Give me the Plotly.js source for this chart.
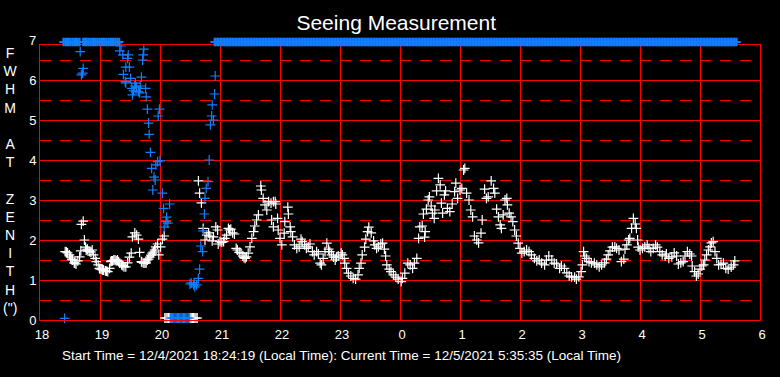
<!DOCTYPE html>
<html>
<head>
<meta charset="utf-8">
<script src="https://cdn.plot.ly/plotly-3.0.1.min.js"></script>
<style>html,body{margin:0;padding:0;background:#000;}#chart{width:780px;height:377px;}</style>
</head>
<body>
<div id="chart"></div>
<script>
// ---- data (hours since 0:00 of 12/4; values > 24 are the next morning) ----
const hourTicks = [18,19,20,21,22,23,24,25,26,27,28,29,30];
const hourTickLabels = ['18','19','20','21','22','23','0','1','2','3','4','5','6'];
const fwhmTicks = [0,1,2,3,4,5,6];

// main seeing series (white): [hour, FWHM arcsec]
const whiteObs = [
[18.42,1.71],[18.44,1.70],[18.46,1.68],[18.49,1.63],[18.51,1.57],[18.53,1.52],[18.54,1.50],[18.57,1.43],[18.58,1.42],[18.60,1.40],[18.63,1.48],[18.66,1.58],[18.68,1.73],[18.69,2.39],[18.72,2.47],[18.74,2.00],[18.76,1.82],[18.77,1.75],[18.79,1.77],[18.80,1.72],[18.83,1.71],[18.85,1.70],[18.87,1.75],[18.89,1.63],[18.92,1.54],[18.94,1.46],[18.97,1.38],[18.99,1.29],[19.00,1.28],[19.02,1.27],[19.04,1.25],[19.06,1.25],[19.09,1.23],[19.11,1.22],[19.13,1.21],[19.16,1.29],[19.18,1.46],[19.19,1.48],[19.21,1.48],[19.23,1.50],[19.25,1.50],[19.27,1.48],[19.29,1.50],[19.31,1.46],[19.33,1.42],[19.36,1.38],[19.38,1.36],[19.40,1.33],[19.43,1.33],[19.46,1.43],[19.49,1.57],[19.52,1.67],[19.54,2.08],[19.58,2.18],[19.61,2.12],[19.64,2.02],[19.66,1.69],[19.69,1.46],[19.70,1.44],[19.73,1.42],[19.75,1.42],[19.77,1.43],[19.79,1.50],[19.81,1.52],[19.83,1.57],[19.85,1.62],[19.87,1.67],[19.89,1.70],[19.91,1.75],[19.93,1.83],[19.96,1.90],[19.98,1.63],[20.01,1.83],[20.04,2.02],[20.07,2.10],
[20.08,0.05],[20.10,0.05],[20.12,0.05],[20.14,0.05],[20.16,0.05],[20.50,0.05],[20.52,0.05],[20.54,0.05],[20.56,0.05],[20.58,0.05],[20.60,0.05],[20.62,0.05],
[20.64,3.48],[20.66,3.17],[20.69,2.93],[20.72,2.29],[20.75,2.00],[20.78,2.12],[20.81,2.18],[20.83,2.10],[20.87,1.98],[20.89,2.08],[20.93,2.33],[20.96,2.25],[20.97,1.90],[21.00,1.96],[21.03,1.94],[21.06,1.96],[21.08,2.04],[21.11,2.12],[21.14,2.29],[21.16,2.25],[21.18,2.27],[21.21,2.18],[21.24,2.15],[21.27,1.79],[21.29,1.75],[21.32,1.69],[21.35,1.67],[21.38,1.60],[21.40,1.56],[21.42,1.54],[21.44,1.58],[21.47,1.67],[21.50,1.83],[21.53,2.04],[21.56,2.21],[21.58,2.35],[21.61,2.50],[21.64,2.63],[21.68,3.35],[21.69,3.25],[21.72,3.04],[21.75,2.88],[21.78,2.75],[21.81,2.96],[21.85,2.92],[21.86,2.50],[21.89,2.96],[21.89,2.33],[21.92,2.96],[21.93,2.90],
[21.96,2.54],[21.97,2.25],[22.00,2.04],[22.03,1.88],[22.07,2.17],[22.08,2.46],[22.13,2.82],[22.14,2.65],[22.17,2.33],[22.18,2.21],[22.21,2.08],[22.24,1.88],[22.28,1.79],[22.32,1.83],[22.35,2.02],[22.37,1.96],[22.41,1.88],[22.44,1.79],[22.47,1.83],[22.50,1.90],[22.54,1.71],[22.57,1.63],[22.61,1.71],[22.64,1.65],[22.67,1.42],[22.69,1.38],[22.72,1.54],[22.75,1.71],[22.78,1.92],[22.81,1.77],[22.83,1.71],[22.86,1.63],[22.89,1.57],[22.92,1.50],[22.94,1.57],[22.97,1.60],[23.02,1.68],[23.04,1.63],[23.07,1.54],[23.08,1.42],[23.11,1.29],[23.14,1.17],[23.18,1.10],[23.22,1.04],[23.26,1.02],[23.30,1.13],[23.32,1.29],[23.35,1.42],[23.37,1.63],[23.41,1.82],[23.43,2.02],[23.46,2.21],[23.48,2.32],[23.52,2.18],[23.56,1.98],[23.58,1.88],[23.61,1.79],[23.64,1.83],[23.68,1.90],[23.71,1.92],[23.74,1.77],[23.76,1.60],[23.78,1.38],[23.82,1.27],[23.85,1.21],[23.89,1.13],[23.93,1.07],[23.97,1.02],[24.02,0.96],
[24.04,1.04],[24.08,1.17],[24.13,1.42],[24.17,1.38],[24.21,1.29],[24.24,1.42],[24.28,1.54],[24.31,2.04],[24.33,2.33],[24.37,2.35],[24.39,2.65],[24.41,2.07],[24.42,2.21],[24.44,2.77],[24.47,3.00],[24.49,3.08],[24.52,2.85],[24.54,2.67],[24.57,2.54],[24.58,2.75],[24.61,3.23],[24.64,3.54],[24.67,3.38],[24.69,2.92],[24.71,2.67],[24.74,3.13],[24.76,3.23],[24.79,2.79],[24.83,2.71],[24.87,2.90],[24.91,3.21],[24.93,3.42],[24.96,3.04],[25.00,3.25],[25.03,3.29],[25.06,3.75],[25.08,3.79],[25.11,3.17],[25.15,3.00],[25.18,2.75],[25.21,2.58],[25.24,2.10],[25.28,2.00],[25.31,1.93],[25.35,2.17],[25.37,2.50],[25.41,3.27],[25.44,3.04],[25.47,3.08],[25.52,3.48],[25.56,3.29],[25.58,3.17],[25.61,2.77],[25.64,2.58],[25.67,2.38],[25.69,2.29],[25.72,2.63],[25.75,3.00],[25.78,3.04],[25.79,2.88],[25.82,2.67],[25.85,2.58],[25.88,2.46],[25.91,2.25],[25.94,2.10],[25.97,1.92],
[26.00,1.79],[26.03,1.67],[26.07,1.71],[26.11,1.75],[26.15,1.71],[26.19,1.63],[26.24,1.54],[26.28,1.48],[26.32,1.50],[26.36,1.42],[26.41,1.38],[26.44,1.50],[26.48,1.60],[26.53,1.50],[26.57,1.42],[26.61,1.40],[26.66,1.29],[26.69,1.35],[26.74,1.29],[26.78,1.18],[26.82,1.10],[26.86,1.08],[26.91,1.07],[26.94,1.02],[26.98,1.08],[27.02,1.21],[27.04,1.38],[27.06,1.71],[27.08,1.60],[27.11,1.54],[27.15,1.46],[27.19,1.43],[27.24,1.42],[27.28,1.38],[27.32,1.33],[27.36,1.38],[27.41,1.43],[27.44,1.52],[27.47,1.63],[27.50,1.73],[27.54,1.82],[27.58,1.83],[27.61,1.79],[27.65,1.75],[27.69,1.46],[27.73,1.52],[27.75,1.77],[27.78,1.88],[27.81,2.00],[27.83,2.04],[27.86,2.29],[27.89,2.54],
[27.92,2.40],[27.94,2.29],[27.96,2.00],[27.97,1.82],[28.00,1.75],[28.04,1.79],[28.08,1.83],[28.12,1.88],[28.15,1.79],[28.18,1.71],[28.22,1.79],[28.26,1.88],[28.29,1.82],[28.33,1.71],[28.37,1.63],[28.42,1.60],[28.44,1.65],[28.48,1.54],[28.53,1.58],[28.57,1.68],[28.61,1.60],[28.64,1.40],[28.68,1.43],[28.72,1.46],[28.75,1.60],[28.79,1.71],[28.83,1.65],[28.86,1.60],[28.87,1.35],[28.91,1.21],[28.94,1.10],[28.97,1.15],[29.00,1.27],[29.03,1.35],[29.06,1.38],[29.08,1.50],[29.11,1.63],[29.14,1.75],[29.17,1.83],[29.19,1.93],[29.22,1.96],[29.25,1.71],[29.28,1.54],[29.31,1.38],[29.35,1.39],[29.39,1.42],[29.43,1.29],[29.47,1.27],[29.52,1.32],[29.56,1.38],[29.58,1.48]
];

// second series (blue): [hour, FWHM arcsec]
const blueObs = [
[18.41,0.04],[18.67,6.71],[18.69,6.13],[18.71,6.17],[18.72,6.29],
[19.33,6.73],[19.35,6.85],[19.38,6.63],[19.39,6.14],[19.42,5.96],[19.43,5.93],[19.43,6.32],[19.46,6.54],[19.47,6.63],[19.49,6.32],[19.51,6.04],[19.53,5.79],[19.54,5.63],[19.56,5.73],[19.58,5.85],[19.59,5.92],[19.61,5.82],[19.64,5.71],[19.66,5.68],[19.67,5.85],[19.69,6.07],[19.71,6.50],[19.72,6.63],[19.73,6.77],[19.76,5.79],[19.77,5.58],[19.79,5.27],[19.81,4.92],[19.82,4.64],[19.84,4.19],[19.86,3.79],[19.88,3.25],[19.90,3.57],[19.92,3.50],[19.93,3.88],[19.96,3.96],[19.97,5.10],[19.99,5.27],[20.00,3.98],[20.04,3.17],[20.06,2.79],[20.07,2.32],[20.10,2.46],[20.11,2.57],[20.13,2.42],[20.16,2.90],
[20.17,0.05],[20.19,0.05],[20.21,0.05],[20.23,0.05],[20.25,0.05],[20.27,0.05],[20.29,0.05],[20.31,0.05],[20.33,0.05],[20.35,0.05],[20.37,0.05],[20.39,0.05],[20.41,0.05],[20.43,0.05],[20.45,0.05],[20.47,0.05],[20.49,0.05],
[20.50,0.90],[20.52,0.93],[20.56,0.88],[20.57,0.93],[20.58,0.83],[20.61,0.88],[20.64,1.04],[20.66,1.27],[20.68,1.85],[20.71,1.71],[20.72,2.23],[20.74,2.65],[20.75,3.04],[20.77,3.29],[20.80,3.46],[20.82,4.00],[20.84,4.88],[20.86,5.10],[20.87,5.38],[20.89,5.00],[20.91,5.65],[20.92,6.10]
];

// blue observations at or above the 7" ceiling (drawn pinned at the top edge)
const blueCeilingLevel = 6.95;
const blueCeilingTimes = [
18.39,18.42,18.45,18.48,18.51,18.54,18.57,18.60,18.63,18.66,
18.72,18.75,18.78,18.81,18.84,18.87,18.90,18.93,18.96,18.99,19.02,19.05,19.08,19.11,19.14,19.17,19.20,19.23,19.26,19.29,19.32,
20.91,20.93,20.96,20.98,
21.01,21.03,21.06,21.08,21.11,21.13,21.16,21.18,21.21,21.23,21.26,21.28,21.31,21.33,21.36,21.38,21.41,21.43,21.46,21.48,21.51,21.53,21.56,21.58,21.61,21.63,21.66,21.68,21.71,21.73,21.76,21.78,21.81,21.83,21.86,21.88,21.91,21.93,21.96,21.98,
22.01,22.03,22.06,22.08,22.11,22.13,22.16,22.18,22.21,22.23,22.26,22.28,22.31,22.33,22.36,22.38,22.41,22.43,22.46,22.48,22.51,22.53,22.56,22.58,22.61,22.63,22.66,22.68,22.71,22.73,22.76,22.78,22.81,22.83,22.86,22.88,22.91,22.93,22.96,22.98,
23.01,23.03,23.06,23.08,23.11,23.13,23.16,23.18,23.21,23.23,23.26,23.28,23.31,23.33,23.36,23.38,23.41,23.43,23.46,23.48,23.51,23.53,23.56,23.58,23.61,23.63,23.66,23.68,23.71,23.73,23.76,23.78,23.81,23.83,23.86,23.88,23.91,23.93,23.96,23.98,
24.01,24.03,24.06,24.08,24.11,24.13,24.16,24.18,24.21,24.23,24.26,24.28,24.31,24.33,24.36,24.38,24.41,24.43,24.46,24.48,24.51,24.53,24.56,24.58,24.61,24.63,24.66,24.68,24.71,24.73,24.76,24.78,24.81,24.83,24.86,24.88,24.91,24.93,24.96,24.98,
25.01,25.03,25.06,25.08,25.11,25.13,25.16,25.18,25.21,25.23,25.26,25.28,25.31,25.33,25.36,25.38,25.41,25.43,25.46,25.48,25.51,25.53,25.56,25.58,25.61,25.63,25.66,25.68,25.71,25.73,25.76,25.78,25.81,25.83,25.86,25.88,25.91,25.93,25.96,25.98,
26.01,26.03,26.06,26.08,26.11,26.13,26.16,26.18,26.21,26.23,26.26,26.28,26.31,26.33,26.36,26.38,26.41,26.43,26.46,26.48,26.51,26.53,26.56,26.58,26.61,26.63,26.66,26.68,26.71,26.73,26.76,26.78,26.81,26.83,26.86,26.88,26.91,26.93,26.96,26.98,
27.01,27.03,27.06,27.08,27.11,27.13,27.16,27.18,27.21,27.23,27.26,27.28,27.31,27.33,27.36,27.38,27.41,27.43,27.46,27.48,27.51,27.53,27.56,27.58,27.61,27.63,27.66,27.68,27.71,27.73,27.76,27.78,27.81,27.83,27.86,27.88,27.91,27.93,27.96,27.98,
28.01,28.03,28.06,28.08,28.11,28.13,28.16,28.18,28.21,28.23,28.26,28.28,28.31,28.33,28.36,28.38,28.41,28.43,28.46,28.48,28.51,28.53,28.56,28.58,28.61,28.63,28.66,28.68,28.71,28.73,28.76,28.78,28.81,28.83,28.86,28.88,28.91,28.93,28.96,28.98,
29.01,29.03,29.06,29.08,29.11,29.13,29.16,29.18,29.21,29.23,29.26,29.28,29.31,29.33,29.36,29.38,29.41,29.43,29.46,29.48,29.51,29.53,29.56,29.58,29.61
];

const chartTitle = 'Seeing Measurement';
const footerText = 'Start Time = 12/4/2021 18:24:19 (Local Time): Current Time = 12/5/2021 5:35:35 (Local Time)';
const yLabelLetters = ['F','W','H','M','','A','T','','Z','E','N','I','T','H','(")'];

// ---- styles ----
const WHITE = '#ffffff';
const BLUE = '#0f7fff';
const RED = '#ff0000';
const FONT = 'Liberation Sans, Arial, sans-serif';

function markerStyle(color, size, width) {
  return {symbol: 'cross-thin', size: size, color: color, line: {width: width, color: color}};
}

// in-range series on the framed grid axes (x, y);
// ceiling series on (x2, y2): same pixel scale, but y reaches 7" above the frame.
const traces = [
  {type: 'scatter', mode: 'markers', cliponaxis: false, hoverinfo: 'skip',
   x: whiteObs.map(p => p[0]), y: whiteObs.map(p => p[1]), marker: markerStyle(WHITE, 7, 1.2)},
  {type: 'scatter', mode: 'markers', cliponaxis: false, hoverinfo: 'skip',
   x: blueObs.map(p => p[0]), y: blueObs.map(p => p[1]), marker: markerStyle(BLUE, 7, 1.2)},
  {type: 'scatter', mode: 'markers', cliponaxis: false, hoverinfo: 'skip', xaxis: 'x2', yaxis: 'y2',
   x: blueCeilingTimes, y: blueCeilingTimes.map(() => blueCeilingLevel), marker: markerStyle(BLUE, 6, 2)}
];

const PLOT_H = 280;          // 377 - 40 - 57
const FRAME_H = 275;         // frame is 5 px lower than the 7" ceiling

const layout = {
  width: 780, height: 377,
  paper_bgcolor: '#000', plot_bgcolor: 'rgba(0,0,0,0)',
  margin: {l: 40, r: 20, t: 40, b: 57},
  showlegend: false,
  font: {family: FONT, color: WHITE, size: 13},
  title: {text: chartTitle, font: {family: FONT, size: 21, color: WHITE},
          x: 0.508, xanchor: 'center', y: 0.940, yanchor: 'middle'},
  xaxis: {
    range: [18, 30], domain: [0, 1], anchor: 'y', tickmode: 'array', tickvals: hourTicks, ticktext: hourTickLabels,
    showgrid: true, gridcolor: RED, gridwidth: 1,
    showline: true, linecolor: RED, linewidth: 1, mirror: true,
    zeroline: false, ticks: '', ticklabelshift: 2, ticklabelstandoff: 2,
    tickfont: {family: FONT, size: 13, color: WHITE}, fixedrange: true
  },
  yaxis: {
    range: [0, 6.875], domain: [0, FRAME_H / PLOT_H], anchor: 'x', tickmode: 'array', tickvals: fwhmTicks,
    showgrid: true, gridcolor: RED, gridwidth: 1,
    minor: {tick0: 0, dtick: 0.5, showgrid: true, gridcolor: RED, gridwidth: 1, griddash: '11px,9px', ticks: ''},
    showline: true, linecolor: RED, linewidth: 1, mirror: true,
    zeroline: false, ticks: '',
    tickfont: {family: FONT, size: 13, color: WHITE}, fixedrange: true
  },
  xaxis2: {range: [18, 30], domain: [0, 1], anchor: 'y2', visible: false, fixedrange: true},
  yaxis2: {range: [0, 7], domain: [0, 1], anchor: 'x2', visible: false, fixedrange: true},
  annotations: [
    {xref: 'paper', yref: 'y2', x: 0, y: 7, xanchor: 'right', yanchor: 'middle', xshift: -2,
     text: '7', showarrow: false, font: {family: FONT, size: 13, color: WHITE}},
    {xref: 'paper', yref: 'paper', x: -29/720, y: 140/PLOT_H, xanchor: 'center', yanchor: 'middle',
     text: yLabelLetters.join('<br>'), showarrow: false, font: {family: FONT, size: 14, color: WHITE}},
    {xref: 'paper', yref: 'paper', x: 301.7/720, y: -35/PLOT_H, xanchor: 'center', yanchor: 'middle',
     text: footerText, showarrow: false, font: {family: FONT, size: 13.5, color: WHITE}}
  ]
};

Plotly.newPlot('chart', traces, layout, {displayModeBar: false, staticPlot: true});
</script>
</body>
</html>
